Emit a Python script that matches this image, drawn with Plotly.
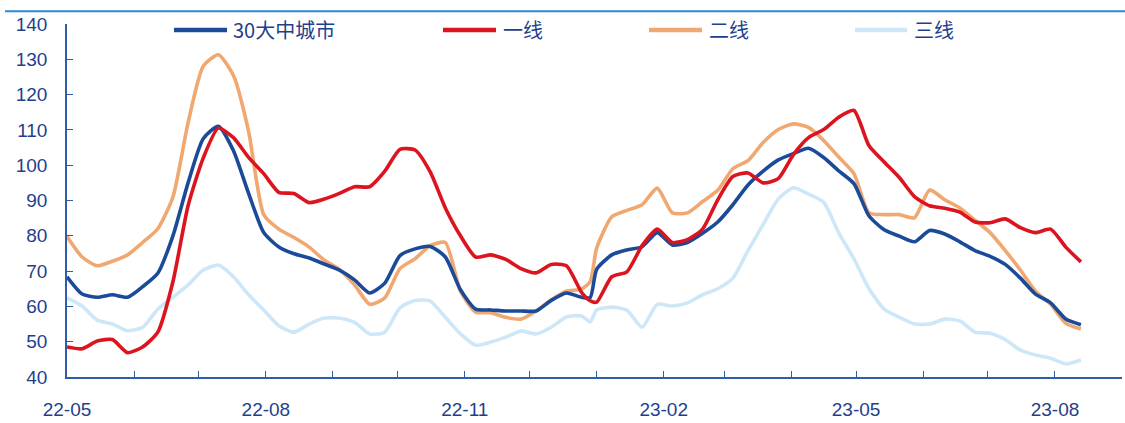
import pandas as pd
import plotly.graph_objects as go

# Weekly observation dates, plus one extra reading around the year-end jump
dates = list(pd.date_range("2022-05-01", periods=68, freq="7D"))
dates.insert(35, pd.Timestamp("2022-12-29"))

# 30大中城市
city30 = [68.4, 63.5, 62.6, 63.3, 62.6, 65.6, 69.4, 80.0, 95.0, 107.5,
          111.0, 104.1, 92.0, 80.9, 76.8, 74.9, 73.7, 72.0, 70.3, 67.5,
          63.8, 66.6, 74.4, 76.3, 77.0, 74.0, 64.7, 59.2, 59.0, 58.7,
          58.7, 58.7, 61.7, 63.8, 62.6, 62.5, 70.5, 74.6, 76.0, 76.9, 80.9,
          77.4, 78.1, 80.7, 83.9, 88.8, 94.4, 98.3, 101.5, 103.3, 104.8,
          102.2, 98.4, 94.8, 85.6, 81.7, 79.9, 78.3, 81.5, 80.5, 78.3,
          75.8, 74.2, 71.9, 68.0, 63.5, 61.0, 56.4, 54.8]

# 一线
tier1 = [48.5, 48.0, 50.2, 50.6, 46.9, 48.5, 52.7, 67.0, 88.5, 102.0,
         110.5, 107.8, 102.2, 97.6, 92.3, 92.0, 89.4, 90.4, 92.0, 93.9,
         93.9, 98.3, 104.5, 104.3, 98.1, 87.9, 80.0, 74.0, 74.6, 73.3,
         70.7, 69.5, 71.9, 71.5, 64.0, 61.6, 61.2, 68.4, 69.8, 77.2, 81.9,
         78.1, 78.9, 81.9, 90.2, 96.8, 97.8, 95.0, 96.2, 103.0, 107.8,
         110.1, 113.6, 115.5, 105.5, 100.9, 96.5, 91.1, 88.5, 87.8, 86.7,
         83.9, 83.7, 84.8, 82.3, 80.9, 81.9, 76.8, 72.6]

# 二线
tier2 = [79.8, 74.0, 71.5, 72.8, 74.6, 78.1, 82.0, 91.0, 112.0, 128.0,
         131.3, 125.4, 109.6, 86.0, 81.9, 79.5, 76.8, 73.1, 70.5, 66.1,
         60.6, 62.4, 70.7, 73.5, 77.2, 78.1, 64.3, 58.4, 58.2, 56.9,
         56.4, 58.7, 61.9, 64.3, 64.9, 67.0, 76.5, 85.4, 87.2, 88.8, 93.5,
         86.5, 86.5, 89.7, 92.9, 99.0, 101.3, 106.4, 110.1, 111.7, 110.7,
         107.0, 102.3, 97.6, 86.5, 86.0, 86.0, 85.1, 93.0, 90.2, 87.9,
         84.4, 80.9, 75.8, 70.3, 64.3, 60.6, 55.2, 53.6]

# 三线
tier3 = [62.4, 60.1, 56.1, 55.0, 53.1, 54.1, 59.2, 62.6, 66.1, 70.3,
         71.7, 68.4, 63.3, 59.0, 54.5, 52.7, 55.0, 56.7, 56.7, 55.5,
         52.2, 52.7, 59.6, 61.7, 61.5, 56.9, 52.2, 49.0, 49.9, 51.3,
         53.0, 52.2, 54.1, 57.0, 57.3, 55.6, 59.0, 59.8, 58.9, 54.1, 60.6,
         60.1, 61.0, 63.3, 65.0, 68.0, 75.8, 83.2, 90.4, 93.6, 91.8,
         89.5, 80.8, 73.5, 65.0, 59.2, 56.9, 55.0, 55.0, 56.4, 55.9,
         52.7, 52.4, 50.6, 47.6, 46.2, 45.3, 43.7, 44.8]

series_names = ["30大中城市", "一线", "二线", "三线"]
series_values = [city30, tier1, tier2, tier3]
series_colors = ["#1B4B98", "#DC1420", "#F0A870", "#CDE7F8"]
draw_order = [3, 2, 0, 1]

TEXT_BLUE = "#1F3F8C"
AXIS_BLUE = "#2F5DA6"

W, H = 1125, 423
M_L, M_R, M_T, M_B = 67, 3, 24, 39
PW, PH = W - M_L - M_R, H - M_T - M_B

fig = go.Figure()
for i in draw_order:
    fig.add_trace(go.Scatter(
        x=dates, y=series_values[i], name=series_names[i], mode="lines",
        line=dict(color=series_colors[i], width=3.6, shape="spline", smoothing=0.6),
        showlegend=False,
    ))


def px_x(px):
    return (px - M_L) / PW


def px_y(py):
    return (H - M_B - py) / PH


# Legend row: sample line + label for each series
legend_items = [(174, 227, 231), (443, 496, 501), (649, 702, 707), (855, 907, 912)]
legend_y = 30
for (x0, x1, xt), name, color in zip(legend_items, series_names, series_colors):
    fig.add_shape(type="line", xref="paper", yref="paper",
                  x0=px_x(x0), x1=px_x(x1), y0=px_y(legend_y), y1=px_y(legend_y),
                  line=dict(color=color, width=4.5))
    fig.add_annotation(xref="paper", yref="paper", x=px_x(xt), y=px_y(legend_y),
                       text=name, showarrow=False, xanchor="left", yanchor="middle",
                       font=dict(family="Noto Sans CJK SC", size=20, color=TEXT_BLUE))

# Header rule above the chart
fig.add_shape(type="line", xref="paper", yref="paper",
              x0=px_x(5), x1=px_x(1125), y0=px_y(11), y1=px_y(11),
              line=dict(color="#2A8BD8", width=2))

fig.update_layout(
    width=W, height=H,
    margin=dict(l=M_L, r=M_R, t=M_T, b=M_B),
    paper_bgcolor="white", plot_bgcolor="white",
    font=dict(family="Liberation Sans", size=19, color=TEXT_BLUE),
)
fig.update_xaxes(
    type="date", range=["2022-05-01", "2023-09-01"],
    tick0="2022-05-01", dtick="M3", tickformat="%y-%m",
    ticks="inside", ticklen=6, tickwidth=1.2, tickcolor=AXIS_BLUE,
    minor=dict(dtick="M1", ticks="inside", ticklen=6, tickwidth=1.2, tickcolor=AXIS_BLUE, showgrid=False),
    showline=True, linecolor=AXIS_BLUE, linewidth=1.5,
    showgrid=False, zeroline=False, ticklabelstandoff=14,
    tickfont=dict(family="Liberation Sans", size=19, color=TEXT_BLUE),
)
fig.update_yaxes(
    range=[40, 140], dtick=10, tick0=40,
    ticks="inside", ticklen=6, tickwidth=1.2, tickcolor=AXIS_BLUE,
    showline=True, linecolor=AXIS_BLUE, linewidth=1.5,
    showgrid=False, zeroline=False, ticklabelstandoff=14,
    tickfont=dict(family="Liberation Sans", size=19, color=TEXT_BLUE),
)

fig.write_html("out.html")
